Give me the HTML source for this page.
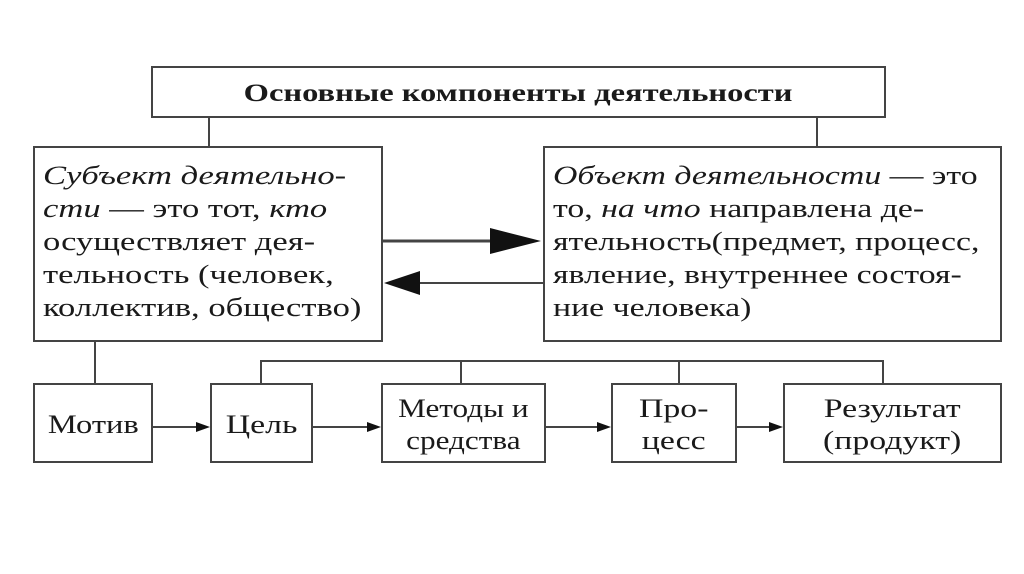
<!DOCTYPE html>
<html><head><meta charset="utf-8"><style>
body{margin:0;width:1024px;height:574px;background:#fff;position:relative;overflow:hidden;font-family:"Liberation Serif",serif;color:#1a1a1a}
.b{position:absolute;border:2px solid #444;box-sizing:border-box;background:#fff}
.t{position:absolute;font-size:26px;line-height:33px;white-space:nowrap;transform:scaleX(1.33);transform-origin:0 0}
.c{display:flex;align-items:center;justify-content:center;text-align:center;font-size:26px;line-height:32px}
.c span{display:inline-block;transform:scaleX(1.3);white-space:nowrap;position:relative;top:2px}
</style></head><body>
<svg width="1024" height="574" style="position:absolute;left:0;top:0">
<g stroke="#444" stroke-width="2" fill="none">
<line x1="209" y1="117" x2="209" y2="146"/><line x1="817" y1="117" x2="817" y2="146"/>
<line x1="95" y1="341" x2="95" y2="383"/>
<polyline points="261,383 261,361 883,361 883,383"/>
<line x1="461" y1="361" x2="461" y2="383"/><line x1="679" y1="361" x2="679" y2="383"/>
<line x1="382" y1="241" x2="500" y2="241" stroke-width="3"/>
<line x1="410" y1="283" x2="543" y2="283"/>
<line x1="152" y1="427" x2="200" y2="427"/><line x1="312" y1="427" x2="372" y2="427"/>
<line x1="545" y1="427" x2="602" y2="427"/><line x1="736" y1="427" x2="774" y2="427"/>
</g>
<g fill="#111">
<polygon points="490,228 541,241 490,254"/>
<polygon points="384,283 420,271 420,295"/>
<polygon points="196,422 210,427 196,432"/>
<polygon points="367,422 381,427 367,432"/>
<polygon points="597,422 611,427 597,432"/>
<polygon points="769,422 783,427 769,432"/>
</g></svg>
<div class="b c" style="left:151px;top:66px;width:735px;height:52px;font-weight:bold;font-size:25px"><span style="transform:scaleX(1.3)">Основные компоненты деятельности</span></div>
<div class="b" style="left:33px;top:146px;width:350px;height:196px"></div>
<div class="t" style="left:43px;top:159px"><i>Субъект деятельно-</i><br><i>сти</i> — это тот, <i>кто</i><br>осуществляет дея-<br>тельность (человек,<br>коллектив, общество)</div>
<div class="b" style="left:543px;top:146px;width:459px;height:196px"></div>
<div class="t" style="left:553px;top:159px;transform:scaleX(1.3)"><i>Объект деятельности</i> — это<br>то, <i>на что</i> направлена де-<br>ятельность(предмет, процесс,<br>явление, внутреннее состоя-<br>ние человека)</div>
<div class="b c" style="left:33px;top:383px;width:120px;height:80px"><span style="transform:scaleX(1.25)">Мотив</span></div>
<div class="b c" style="left:210px;top:383px;width:103px;height:80px"><span>Цель</span></div>
<div class="b c" style="left:381px;top:383px;width:165px;height:80px"><span style="transform:scaleX(1.2)">Методы и<br>средства</span></div>
<div class="b c" style="left:611px;top:383px;width:126px;height:80px"><span>Про-<br>цесс</span></div>
<div class="b c" style="left:783px;top:383px;width:219px;height:80px"><span>Результат<br>(продукт)</span></div>
</body></html>
